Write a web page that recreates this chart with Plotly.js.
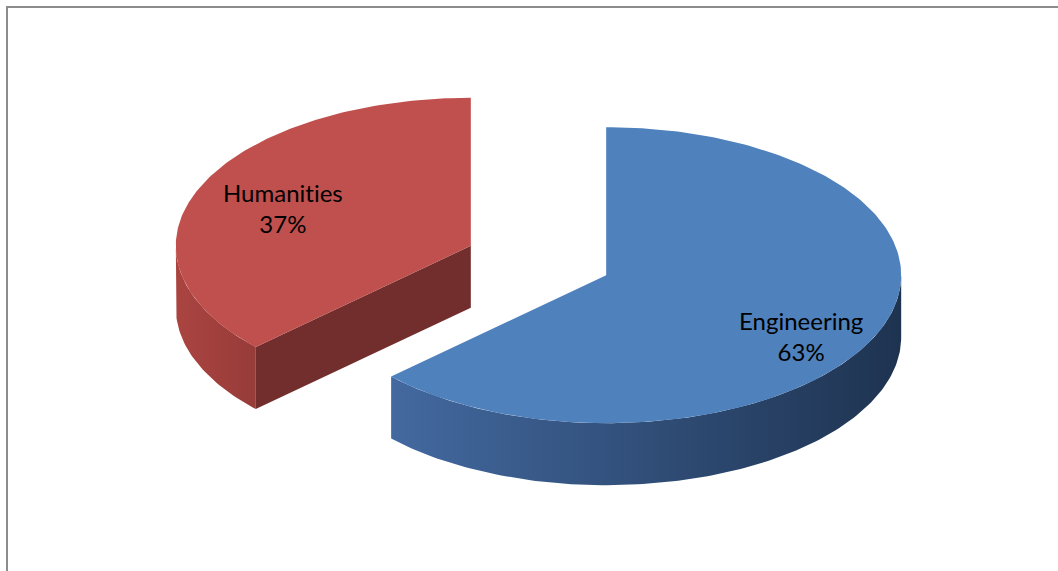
<!DOCTYPE html>
<html>
<head>
<meta charset="utf-8">
<script src="https://cdn.plot.ly/plotly-3.0.1.min.js"></script>
<style>html,body{margin:0;padding:0;background:#fff;}#chart{width:1058px;height:571px;}
svg text{font-variant-ligatures:none;font-feature-settings:"liga" 0,"clig" 0;}</style>
</head>
<body>
<div id="chart"></div>
<script>
// ---- data ----
const categories = ["Engineering", "Humanities"];
const values = [63, 37];
const percentLabels = ["63%", "37%"];

// ---- style / layout constants ----
const topColors = ["#4F81BD", "#C0504D"];
const sideColors = [["#4369A0", "#1E3350"], ["#AA4441", "#973C39"]];
const cutColors = ["#253E5E", "#722E2C"];
const W = 1058, H = 571;
const base = {x: 538.5, y: 260.5};
const rx = 295, ry = 148, depth = 62, explode = 0.25;
const labelFx = 0.72, labelFy = 0.68;
const labelNudgeX = [0, 7];
const labelNudgeY = [21, 2];

const total = values.reduce((a, b) => a + b, 0);
const rad = d => d * Math.PI / 180;
const pt = (c, deg, dy) => [c.x + rx * Math.sin(rad(deg)), c.y - ry * Math.cos(rad(deg)) + (dy || 0)];

function arc(c, a, b, dy) {
  const pts = [];
  const n = Math.max(2, Math.ceil(Math.abs(b - a)));
  for (let i = 0; i <= n; i++) pts.push(pt(c, a + (b - a) * i / n, dy));
  return pts;
}
function poly(pts, fill, grad) {
  const tr = {
    type: "scatter", mode: "lines", fill: "toself",
    x: pts.map(p => p[0]).concat([pts[0][0]]),
    y: pts.map(p => p[1]).concat([pts[0][1]]),
    line: {width: 0, color: fill}, fillcolor: fill,
    hoverinfo: "skip", showlegend: false
  };
  if (grad) tr.fillgradient = {type: "horizontal", colorscale: [[0, grad[0]], [1, grad[1]]]};
  return tr;
}

// compute slices (start at 12 o'clock, clockwise)
let acc = 0;
const slices = values.map((v, i) => {
  const a = acc / total * 360; acc += v;
  const b = acc / total * 360;
  const mid = (a + b) / 2;
  const c = {x: base.x + explode * rx * Math.sin(rad(mid)), y: base.y - explode * ry * Math.cos(rad(mid))};
  return {i, a, b, mid, c};
});

// draw back-to-front: slices whose center is higher first
const order = slices.slice().sort((p, q) => p.c.y - q.c.y);
const traces = [];
order.forEach(s => {
  const i = s.i, c = s.c;
  const sa = Math.max(s.a, 90), sb = Math.min(s.b, 270);
  if (sb > sa) {
    const topEdge = arc(c, sa, sb, 0);
    const botEdge = arc(c, sb, sa, depth);
    traces.push(poly(topEdge.concat(botEdge), sideColors[i][0], sideColors[i]));
  }
  const faces = [];
  if (Math.sin(rad(s.a)) < -1e-6) faces.push(s.a);
  if (Math.sin(rad(s.b)) > 1e-6) faces.push(s.b);
  faces.forEach(f => {
    const e = pt(c, f, 0), eb = pt(c, f, depth);
    traces.push(poly([[c.x, c.y], e, eb, [c.x, c.y + depth]], cutColors[i]));
  });
  traces.push(poly([[c.x, c.y]].concat(arc(c, s.a, s.b, 0)), topColors[i]));
});

const annotations = slices.map(s => {
  const c = s.c;
  return {
    x: c.x + labelFx * rx * Math.sin(rad(s.mid)) + labelNudgeX[s.i],
    y: c.y - labelFy * ry * Math.cos(rad(s.mid)) + labelNudgeY[s.i],
    xref: "x", yref: "y", showarrow: false,
    text: categories[s.i] + "<br>" + percentLabels[s.i],
    font: {family: "Lato, 'Open Sans', sans-serif", size: 24, color: "#000"},
    align: "center"
  };
});

const layout = {
  width: W, height: H,
  margin: {l: 0, r: 0, t: 0, b: 0},
  paper_bgcolor: "#ffffff", plot_bgcolor: "#ffffff",
  xaxis: {range: [0, W], visible: false, fixedrange: true},
  yaxis: {range: [H, 0], visible: false, fixedrange: true},
  showlegend: false, hovermode: false,
  annotations: annotations,
  shapes: [
    {type: "line", xref: "paper", yref: "paper", x0: 6 / W, x1: 1, y0: 1 - 7 / H, y1: 1 - 7 / H, line: {color: "#8c8c8c", width: 2}},
    {type: "line", xref: "paper", yref: "paper", x0: 7 / W, x1: 7 / W, y0: 1 - 6 / H, y1: 0, line: {color: "#8c8c8c", width: 2}}
  ]
};

Plotly.newPlot("chart", traces, layout, {displayModeBar: false, staticPlot: true});
</script>
</body>
</html>
